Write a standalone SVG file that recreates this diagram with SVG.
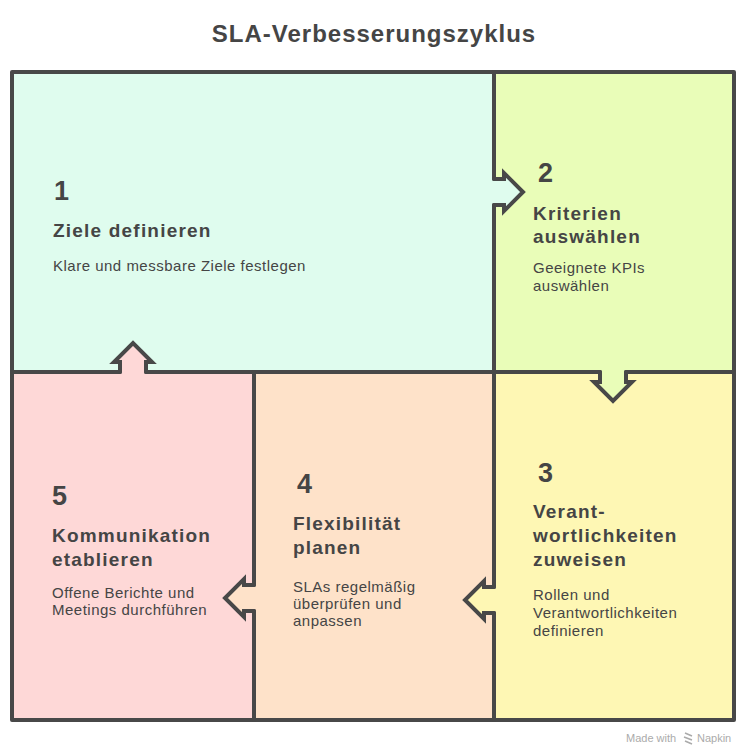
<svg xmlns="http://www.w3.org/2000/svg" width="749" height="755" viewBox="0 0 749 755">
<style>
.fr{fill:none;stroke:#484848;stroke-width:4;stroke-linecap:round;stroke-linejoin:round}
.ar{stroke:#484848;stroke-width:4;stroke-linecap:round;stroke-linejoin:miter}
.num{font-family:"Liberation Sans",Arial,sans-serif;font-weight:bold;font-size:27px;fill:#454545}
.hd{font-family:"Liberation Sans",Arial,sans-serif;font-weight:bold;font-size:19px;letter-spacing:1.2px;fill:#454545}
.ds{font-family:"Liberation Sans",Arial,sans-serif;font-size:15px;letter-spacing:0.5px;fill:#454545}
.title{font-family:"Liberation Sans",Arial,sans-serif;font-weight:bold;font-size:24px;letter-spacing:1px;fill:#454545}
</style>
<rect width="749" height="755" fill="#ffffff"/>
<text class="title" x="374" y="42" text-anchor="middle">SLA-Verbesserungszyklus</text>
<g id="node1">
<rect x="12" y="72" width="482" height="300" fill="#DFFCEE"/>
<text class="num" x="54" y="200">1</text>
<text class="hd" x="53" y="237">Ziele definieren</text>
<text class="ds" x="53" y="271">Klare und messbare Ziele festlegen</text>
</g>
<g id="node2">
<rect x="494" y="72" width="240" height="300" fill="#E9FDB8"/>
<text class="num" x="538" y="182">2</text>
<text class="hd" x="533" y="220">Kriterien</text>
<text class="hd" x="533" y="243">auswählen</text>
<text class="ds" x="533" y="273">Geeignete KPIs</text>
<text class="ds" x="533" y="291">auswählen</text>
</g>
<g id="node3">
<rect x="494" y="372" width="240" height="348" fill="#FEF7B4"/>
<text class="num" x="538" y="482">3</text>
<text class="hd" x="533" y="518">Verant-</text>
<text class="hd" x="533" y="542">wortlichkeiten</text>
<text class="hd" x="533" y="566">zuweisen</text>
<text class="ds" x="533" y="600">Rollen und</text>
<text class="ds" x="533" y="618">Verantwortlichkeiten</text>
<text class="ds" x="533" y="636">definieren</text>
</g>
<g id="node4">
<rect x="254" y="372" width="240" height="348" fill="#FEE2C9"/>
<text class="num" x="297" y="493">4</text>
<text class="hd" x="293" y="530">Flexibilität</text>
<text class="hd" x="293" y="554">planen</text>
<text class="ds" x="293" y="592">SLAs regelmäßig</text>
<text class="ds" x="293" y="609">überprüfen und</text>
<text class="ds" x="293" y="626">anpassen</text>
</g>
<g id="node5">
<rect x="12" y="372" width="242" height="348" fill="#FED8D7"/>
<text class="num" x="52" y="505">5</text>
<text class="hd" x="52" y="542">Kommunikation</text>
<text class="hd" x="52" y="566">etablieren</text>
<text class="ds" x="52" y="598">Offene Berichte und</text>
<text class="ds" x="52" y="615">Meetings durchführen</text>
</g>
<g id="frame">
<rect class="fr" x="12" y="72" width="722" height="648"/>
<path class="fr" d="M12,372 H120 M146,372 H600 M626,372 H734"/>
<path class="fr" d="M494,72 V179 M494,205 V587 M494,613 V720"/>
<path class="fr" d="M254,372 V585 M254,611 V720"/>
</g>
<g id="connectors">
<path class="ar" fill="#DFFCEE" d="M494,179 L504,179 L504,173 L523,192 L504,211 L504,205 L494,205"/>
<path class="ar" fill="#E9FDB8" d="M600,372 L600,382 L594,382 L613,401 L632,382 L626,382 L626,372"/>
<path class="ar" fill="#FEF7B4" d="M494,587 L484,587 L484,581 L465,600 L484,619 L484,613 L494,613"/>
<path class="ar" fill="#FEE2C9" d="M254,585 L244,585 L244,579 L225,598 L244,617 L244,611 L254,611"/>
<path class="ar" fill="#FED8D7" d="M120,372 L120,362 L114,362 L133,343 L152,362 L146,362 L146,372"/>
</g>
<g id="watermark" fill="#ababab">
<text x="626" y="742" style="font-family:'Liberation Sans',Arial,sans-serif;font-size:11px">Made with</text>
<path d="M685,733 l7,3 M684,737 l8,3 M685,741 l7,3" stroke="#ababab" stroke-width="1.6" fill="none"/>
<text x="697" y="742" style="font-family:'Liberation Sans',Arial,sans-serif;font-size:11px">Napkin</text>
</g>
</svg>
